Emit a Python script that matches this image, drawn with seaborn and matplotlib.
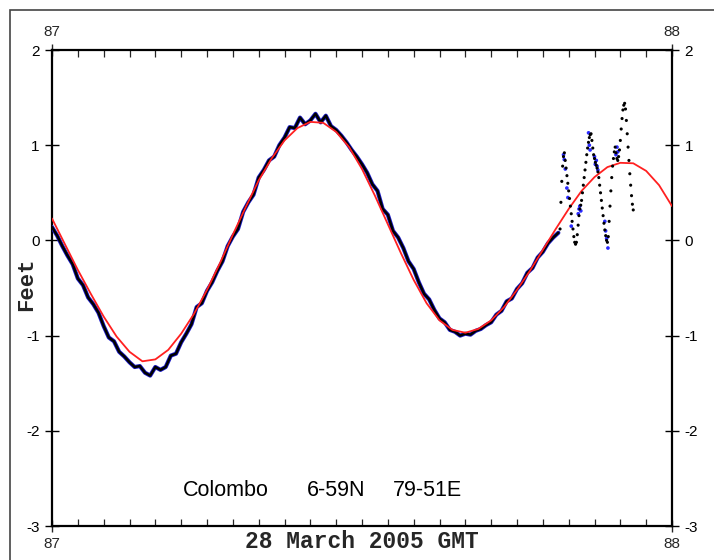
import numpy as np
import pandas as pd
import matplotlib
matplotlib.use("Agg")
import matplotlib.pyplot as plt
from matplotlib.patches import Rectangle
from matplotlib.ticker import MultipleLocator
import seaborn as sns

# ---------------- data ----------------
DAY0 = 87  # day of year (28 March 2005)

# predicted tide (feet), every half hour from 0h to 24h GMT
pred_hours = [i * 0.5 for i in range(49)]
pred_feet = [0.23, -0.04, -0.31, -0.56, -0.80, -1.01, -1.17, -1.27, -1.25, -1.15,
             -0.98, -0.77, -0.52, -0.24, 0.06, 0.35, 0.63, 0.86, 1.05, 1.18,
             1.245, 1.235, 1.14, 0.98, 0.75, 0.47, 0.17, -0.13, -0.415, -0.66,
             -0.84, -0.94, -0.97, -0.93, -0.84, -0.70, -0.52, -0.32, -0.10, 0.12,
             0.33, 0.52, 0.665, 0.77, 0.815, 0.81, 0.73, 0.58, 0.36]

# observed water level (feet), every 12 minutes from 0h to 19.6h
obs_hours = [i * 0.2 for i in range(99)]
obs_feet = [0.14, 0.05, -0.06, -0.16, -0.25, -0.40, -0.47, -0.60, -0.67, -0.76,
            -0.90, -1.02, -1.06, -1.17, -1.22, -1.28, -1.33, -1.32, -1.39, -1.42,
            -1.33, -1.36, -1.33, -1.21, -1.19, -1.07, -0.98, -0.88, -0.70, -0.66,
            -0.53, -0.44, -0.32, -0.22, -0.06, 0.04, 0.12, 0.30, 0.40, 0.48,
            0.66, 0.74, 0.84, 0.88, 1.00, 1.08, 1.19, 1.18, 1.29, 1.22,
            1.26, 1.33, 1.24, 1.31, 1.20, 1.16, 1.10, 1.03, 0.95, 0.88,
            0.80, 0.71, 0.59, 0.52, 0.33, 0.27, 0.10, 0.03, -0.08, -0.22,
            -0.30, -0.44, -0.56, -0.62, -0.73, -0.82, -0.86, -0.94, -0.96, -1.00,
            -0.98, -0.99, -0.95, -0.93, -0.89, -0.86, -0.78, -0.74, -0.64, -0.61,
            -0.51, -0.45, -0.34, -0.29, -0.18, -0.12, -0.03, 0.03, 0.08]

# tsunami-period observations (feet), every 2 minutes from 19h40m
tsu_start_hour = 19 + 40 / 60
tsu_feet = [0.12, 0.40, 0.62, 0.78, 0.88, 0.92, 0.84, 0.76, 0.68, 0.60,
            0.52, 0.44, 0.36, 0.28, 0.20, 0.12, 0.04, -0.02, -0.04, -0.02,
            0.06, 0.16, 0.26, 0.33, 0.37, 0.42, 0.50, 0.58, 0.66, 0.74,
            0.82, 0.90, 0.97, 1.03, 1.08, 1.11, 1.12, 1.05, 0.97, 0.90,
            0.86, 0.82, 0.79, 0.76, 0.72, 0.66, 0.58, 0.50, 0.42, 0.34,
            0.26, 0.18, 0.11, 0.05, 0.00, -0.02, 0.04, 0.20, 0.36, 0.52,
            0.66, 0.78, 0.86, 0.93, 0.98, 0.92, 0.86, 0.84, 0.88, 0.95,
            1.05, 1.17, 1.28, 1.37, 1.42, 1.44, 1.38, 1.26, 1.12, 0.98,
            0.84, 0.70, 0.58, 0.47, 0.38, 0.32]

# second sensor (blue) readings during the tsunami
blue_hours = [19.80, 19.83, 19.87, 19.93, 19.97, 20.10, 20.37, 20.40, 20.43, 20.47,
              20.77, 20.80, 20.83, 21.00, 21.03, 21.07, 21.10, 21.13, 21.40, 21.43,
              21.47, 21.52, 21.83, 21.87, 21.90]
blue_feet = [0.90, 0.85, 0.75, 0.55, 0.45, 0.15, 0.28, 0.33, 0.36, 0.31,
             1.13, 1.00, 0.95, 0.88, 0.80, 0.84, 0.78, 0.74, 0.20, 0.10,
             0.02, -0.08, 0.90, 0.98, 0.93]

y_ticks = [-3, -2, -1, 0, 1, 2]
x_ticks = [87, 88]
station_parts = ["Colombo", "6-59N", "79-51E"]
x_title = "28 March 2005 GMT"
y_title = "Feet"

# ---------------- frames ----------------
pred = pd.DataFrame({"day": [DAY0 + h / 24 for h in pred_hours], "feet": pred_feet})
obs = pd.DataFrame({"day": [DAY0 + h / 24 for h in obs_hours], "feet": obs_feet})
tsu_hours = [tsu_start_hour + i * 2 / 60 for i in range(len(tsu_feet))]
tsu = pd.DataFrame({"day": [DAY0 + h / 24 for h in tsu_hours], "feet": tsu_feet})
blue = pd.DataFrame({"day": [DAY0 + h / 24 for h in blue_hours], "feet": blue_feet})

# ---------------- plot ----------------
sns.set_style("white")
plt.rcParams["font.family"] = ["Liberation Sans", "DejaVu Sans"]

fig = plt.figure(figsize=(7.14, 5.6), dpi=100)
ax = fig.add_axes([52 / 714, 1 - 526 / 560, 620 / 714, 476 / 560])

sns.lineplot(data=obs, x="day", y="feet", ax=ax, color="#1a1ac8", lw=3.0, zorder=3)
sns.lineplot(data=obs, x="day", y="feet", ax=ax, color="black", lw=1.8, zorder=4)
sns.lineplot(data=pred, x="day", y="feet", ax=ax, color="#ff2020", lw=1.3, zorder=5)
sns.scatterplot(data=blue, x="day", y="feet", ax=ax, color="#2a2aff", s=7,
                edgecolor="none", zorder=6)
sns.scatterplot(data=tsu, x="day", y="feet", ax=ax, color="black", s=5,
                edgecolor="none", zorder=7)

ax.set_xlim(87, 88)
ax.set_ylim(-3, 2)
ax.set_xlabel("")
ax.set_ylabel("")
ax.grid(False)

ax.set_yticks(y_ticks)
ax.set_yticklabels([str(t) for t in y_ticks])
ax.set_xticks(x_ticks)
ax.set_xticklabels([str(t) for t in x_ticks])
ax.xaxis.set_minor_locator(MultipleLocator(1 / 24))

ax.tick_params(axis="y", which="major", direction="inout", length=10, width=1,
               left=True, right=True, labelleft=True, labelright=True,
               labelsize=11, pad=4, colors="black")
ax.tick_params(axis="x", which="major", direction="inout", length=8, width=1,
               top=True, bottom=True, labeltop=True, labelbottom=True,
               labelsize=11, pad=4)
ax.tick_params(axis="x", which="minor", direction="in", length=5, width=0.9,
               top=True, bottom=True)

for sp in ax.spines.values():
    sp.set_visible(True)
    sp.set_color("black")
    sp.set_linewidth(1.6)

# station annotation
station_px = [183, 307, 393]
for part, px in zip(station_parts, station_px):
    ax.text(87 + (px - 52) / 620, (240 - 490) / 95.2, part,
            fontsize=15.5, ha="left", va="center", color="black")

mono = ["Liberation Mono", "DejaVu Sans Mono"]
ax.text(0.5, -(541 - 526) / 476, x_title, transform=ax.transAxes,
        fontsize=16.5, family=mono, weight="bold",
        ha="center", va="center")
ax.text(-(52 - 27) / 620, (526 - 284) / 476, y_title, transform=ax.transAxes,
        fontsize=16, family=mono, weight="bold",
        ha="center", va="center", rotation=90)

# outer frame of the image
fig.add_artist(Rectangle((10 / 714, -0.1), 1.2, 1 - 10 / 560 + 0.1,
                         transform=fig.transFigure, fill=False,
                         edgecolor="#444444", lw=1.2))

fig.savefig("out.png", dpi=100, facecolor="white")
